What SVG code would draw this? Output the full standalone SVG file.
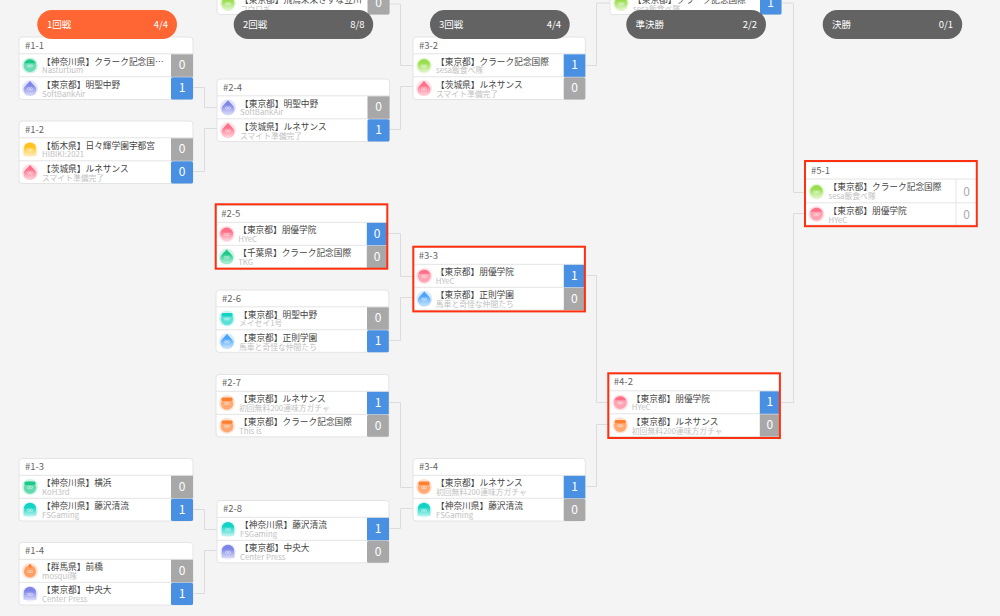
<svg xmlns="http://www.w3.org/2000/svg" width="1000" height="616" viewBox="0 0 1000 616">
<style>
text{font-family:"Noto Sans CJK JP","Noto Sans",sans-serif}
.card{fill:#fff;stroke:#e4e4e4;stroke-width:1}
.div{stroke:#e4e4e4;stroke-width:1}
.h{font-size:9.5px;fill:#666}
.n{font-size:8.7px;fill:#444;transform:translateY(-0.4px)}
.s{font-size:7.8px;fill:#c2c2c2;transform:translateY(0.7px)}
.v{font-size:12px;fill:#fff;text-anchor:middle;transform:translateY(0.3px)}
.vg{font-size:12px;fill:#aaa;text-anchor:middle}
.bl{fill:#4a90e2}
.gr{fill:#a8a8a8}
.frame{fill:none;stroke:#ff3010;stroke-width:2}
.pill{fill:#636363}
.pill1{fill:#ff6633}
.pt{font-size:9.5px;fill:#fff}
.pe{font-size:9.5px;fill:#fff;text-anchor:end}
#links path{fill:none;stroke:#dcdcdc;stroke-width:1}
.lime{color:#9ade50}.pink{color:#ff6f88}.green{color:#1cc98a}.purple{color:#7f85e8}.yellow{color:#ffc31f}
.teal{color:#10d3c3}.orange{color:#ff8030}.blue{color:#4aa4f8}
</style>
<defs>
<linearGradient id="fade" x1="0" y1="0" x2="0" y2="1"><stop offset="0.3" stop-color="#fff" stop-opacity="0"/><stop offset="1" stop-color="#fff" stop-opacity="0.7"/></linearGradient>
<g id="eyes" fill="none" stroke="#fff" stroke-opacity="0.75" stroke-width="0.6"><circle cx="-1.3" cy="0.5" r="1.2"/><circle cx="1.3" cy="0.5" r="1.2"/></g>
<g id="round"><circle r="8" fill="currentColor" opacity="0.22"/><circle r="6.4" fill="currentColor"/><circle r="6.4" fill="url(#fade)"/><use href="#eyes"/></g>
<g id="dome"><circle r="8" fill="currentColor" opacity="0.22"/><circle r="6.4" fill="currentColor" opacity="0.55"/><path d="M-5.9-2.2A6.4 6.4 0 0 1 5.9-2.2Z" fill="currentColor"/><use href="#eyes"/></g>
<g id="knob"><circle r="8" fill="currentColor" opacity="0.22"/><circle cy="0.6" r="6" fill="currentColor" opacity="0.7"/><path d="M0-7.2L2-5 0-2.8-2-5Z" fill="currentColor"/><use href="#eyes"/></g>
<g id="cap"><circle r="8" fill="currentColor" opacity="0.22"/><circle cy="0.6" r="6.2" fill="currentColor" opacity="0.6"/><rect x="-5.6" y="-5.4" width="11.2" height="3.4" rx="1.5" fill="currentColor"/><use href="#eyes"/></g>
<g id="drop"><circle r="8" fill="currentColor" opacity="0.22"/><path d="M0-7.6C1.5-4.6 6.3-2.6 6.3 1.4A6.3 5.6 0 0 1-6.3 1.4C-6.3-2.6-1.5-4.6 0-7.6Z" fill="currentColor"/><path d="M0-7.6C1.5-4.6 6.3-2.6 6.3 1.4A6.3 5.6 0 0 1-6.3 1.4C-6.3-2.6-1.5-4.6 0-7.6Z" fill="url(#fade)"/><use href="#eyes"/></g>
<g id="ghost"><circle r="8" fill="currentColor" opacity="0.14"/><path d="M-6.2 6.2V-0.8A6.2 6.2 0 0 1 6.2-0.8V6.2Z" fill="currentColor"/><path d="M-6.2 6.2V-0.8A6.2 6.2 0 0 1 6.2-0.8V6.2Z" fill="url(#fade)"/><use href="#eyes"/></g>
</defs>
<rect width="1000" height="616" fill="#f4f4f4"/>
<g id="links">
<path d="M193 87.5H204.5V107.5H217"/>
<path d="M193 171.5H204.5V128.5H217"/>
<path d="M193 509.5H204.5V529.5H217"/>
<path d="M193 593.5H204.5V550.5H217"/>
<path d="M389 4H400.5V65.5H413"/>
<path d="M389 129.5H400.5V86.5H413"/>
<path d="M388 233.5H400.5V276.5H413"/>
<path d="M389 340.5H400.5V297.5H413"/>
<path d="M389 402.5H400.5V487.5H413"/>
<path d="M389 528.5H400.5V508.5H413"/>
<path d="M585 65.5H596.5V3H610"/>
<path d="M585 275.5H596.5V402.5H608"/>
<path d="M585 486.5H596.5V424.5H608"/>
<path d="M781 3H793.5V192.5H805"/>
<path d="M781 402.5H793.5V213.5H805"/>
</g>
<g id="m2-3" transform="translate(217,-48)">
<rect class="card" width="172.5" height="62.6" rx="3"/><line class="div" x1="0" x2="172.5" y1="39.8" y2="39.8"/>
<use href="#round" x="11" y="51.3" class="lime"/>
<text class="n" x="23" y="51">【東京都】飛鳥未来きずな立川</text><text class="s" x="23" y="59">コウロギ</text>
<rect class="gr" x="150.5" y="40.3" width="22" height="22.3" rx="1.5"/><text class="v" x="161.5" y="55">0</text>
</g>
<g id="m3-1" transform="translate(610,-48)">
<rect class="card" width="171.5" height="62.6" rx="3"/><line class="div" x1="0" x2="171.5" y1="39.8" y2="39.8"/>
<use href="#round" x="11" y="51.3" class="lime"/>
<text class="n" x="23" y="51">【東京都】クラーク記念国際</text><text class="s" x="23" y="59">sesa飯食べ隊</text>
<rect class="bl" x="150" y="40.3" width="21.5" height="22.3" rx="1.5"/><text class="v" x="160.7" y="55">1</text>
</g>
<g id="m1-1" transform="translate(19,37)">
<rect class="card" width="174" height="62.5" rx="3"/><line class="div" x1="0" x2="174" y1="16.8" y2="16.8"/><line class="div" x1="0" x2="174" y1="39.8" y2="39.8"/>
<text class="h" x="6" y="11.5">#1-1</text>
<use href="#dome" x="11" y="28.5" class="green"/><text class="n" x="23" y="28">【神奈川県】クラーク記念国…</text><text class="s" x="23" y="35.7">Nasturtium</text>
<rect class="gr" x="152" y="17.3" width="22" height="22.5"/><text class="v" x="163" y="32">0</text>
<use href="#drop" x="11" y="51.3" class="purple"/><text class="n" x="23" y="51">【東京都】明聖中野</text><text class="s" x="23" y="59">SoftBankAir</text>
<rect class="bl" x="152" y="40.3" width="22" height="22.3" rx="1.5"/><text class="v" x="163" y="55">1</text>
</g>
<g id="m1-2" transform="translate(19,121)">
<rect class="card" width="174" height="62.5" rx="3"/><line class="div" x1="0" x2="174" y1="16.8" y2="16.8"/><line class="div" x1="0" x2="174" y1="39.8" y2="39.8"/>
<text class="h" x="6" y="11.5">#1-2</text>
<use href="#ghost" x="11" y="28.5" class="yellow"/><text class="n" x="23" y="28">【栃木県】日々輝学園宇都宮</text><text class="s" x="23" y="35.7">HIBIKI:2021</text>
<rect class="gr" x="152" y="17.3" width="22" height="22.5"/><text class="v" x="163" y="32">0</text>
<use href="#drop" x="11" y="51.3" class="pink"/><text class="n" x="23" y="51">【茨城県】ルネサンス</text><text class="s" x="23" y="59">スマイト準備完了</text>
<rect class="bl" x="152" y="40.3" width="22" height="22.3" rx="1.5"/><text class="v" x="163" y="55">0</text>
</g>
<g id="m1-3" transform="translate(19,458.5)">
<rect class="card" width="174" height="62.5" rx="3"/><line class="div" x1="0" x2="174" y1="16.8" y2="16.8"/><line class="div" x1="0" x2="174" y1="39.8" y2="39.8"/>
<text class="h" x="6" y="11.5">#1-3</text>
<use href="#cap" x="11" y="28.5" class="green"/><text class="n" x="23" y="28">【神奈川県】横浜</text><text class="s" x="23" y="35.7">KoH3rd</text>
<rect class="gr" x="152" y="17.3" width="22" height="22.5"/><text class="v" x="163" y="32">0</text>
<use href="#ghost" x="11" y="51.3" class="teal"/><text class="n" x="23" y="51">【神奈川県】藤沢清流</text><text class="s" x="23" y="59">FSGaming</text>
<rect class="bl" x="152" y="40.3" width="22" height="22.3" rx="1.5"/><text class="v" x="163" y="55">1</text>
</g>
<g id="m1-4" transform="translate(19,542.5)">
<rect class="card" width="174" height="62.5" rx="3"/><line class="div" x1="0" x2="174" y1="16.8" y2="16.8"/><line class="div" x1="0" x2="174" y1="39.8" y2="39.8"/>
<text class="h" x="6" y="11.5">#1-4</text>
<use href="#knob" x="11" y="28.5" class="orange"/><text class="n" x="23" y="28">【群馬県】前橋</text><text class="s" x="23" y="35.7">mosqui隊</text>
<rect class="gr" x="152" y="17.3" width="22" height="22.5"/><text class="v" x="163" y="32">0</text>
<use href="#ghost" x="11" y="51.3" class="purple"/><text class="n" x="23" y="51">【東京都】中央大</text><text class="s" x="23" y="59">Center Press</text>
<rect class="bl" x="152" y="40.3" width="22" height="22.3" rx="1.5"/><text class="v" x="163" y="55">1</text>
</g>
<g id="m2-4" transform="translate(217,79)">
<rect class="card" width="172.5" height="62.5" rx="3"/><line class="div" x1="0" x2="172.5" y1="16.8" y2="16.8"/><line class="div" x1="0" x2="172.5" y1="39.8" y2="39.8"/>
<text class="h" x="6" y="11.5">#2-4</text>
<use href="#drop" x="11" y="28.5" class="purple"/><text class="n" x="23" y="28">【東京都】明聖中野</text><text class="s" x="23" y="35.7">SoftBankAir</text>
<rect class="gr" x="150.5" y="17.3" width="22" height="22.5"/><text class="v" x="161.5" y="32">0</text>
<use href="#drop" x="11" y="51.3" class="pink"/><text class="n" x="23" y="51">【茨城県】ルネサンス</text><text class="s" x="23" y="59">スマイト準備完了</text>
<rect class="bl" x="150.5" y="40.3" width="22" height="22.3" rx="1.5"/><text class="v" x="161.5" y="55">1</text>
</g>
<g id="m2-5" transform="translate(216.2,205.5)">
<rect class="card" width="171" height="62.5"/><line class="div" x1="0" x2="171" y1="16.8" y2="16.8"/><line class="div" x1="0" x2="171" y1="39.8" y2="39.8"/>
<text class="h" x="5" y="11">#2-5</text>
<use href="#round" x="10.5" y="28.5" class="pink"/><text class="n" x="22" y="28">【東京都】朋優学院</text><text class="s" x="22" y="35.7">HYeC</text>
<rect class="bl" x="150.6" y="17.3" width="20.4" height="22.5"/><text class="v" x="161" y="32">0</text>
<use href="#drop" x="10.5" y="51.3" class="green"/><text class="n" x="22" y="51">【千葉県】クラーク記念国際</text><text class="s" x="22" y="59">TKG</text>
<rect class="gr" x="150.6" y="40.3" width="20.4" height="22.3"/><text class="v" x="161" y="55">0</text>
<rect class="frame" x="-0.5" y="-1.2" width="171.6" height="64.4"/>
</g>
<g id="m2-6" transform="translate(216,290)">
<rect class="card" width="172.8" height="62.3" rx="3"/><line class="div" x1="0" x2="172.8" y1="16.8" y2="16.8"/><line class="div" x1="0" x2="172.8" y1="39.8" y2="39.8"/>
<text class="h" x="6" y="11.5">#2-6</text>
<use href="#cap" x="11" y="28.5" class="teal"/><text class="n" x="23" y="28">【東京都】明聖中野</text><text class="s" x="23" y="35.7">メイセイ1号</text>
<rect class="gr" x="151" y="17.3" width="21.8" height="22.5"/><text class="v" x="162" y="32">0</text>
<use href="#drop" x="11" y="51.3" class="blue"/><text class="n" x="23" y="51">【東京都】正則学園</text><text class="s" x="23" y="59">馬車と奇怪な仲間たち</text>
<rect class="bl" x="151" y="40.3" width="21.8" height="22" rx="1.5"/><text class="v" x="162" y="55">1</text>
</g>
<g id="m2-7" transform="translate(216,374.5)">
<rect class="card" width="172.8" height="62.3" rx="3"/><line class="div" x1="0" x2="172.8" y1="16.8" y2="16.8"/><line class="div" x1="0" x2="172.8" y1="39.8" y2="39.8"/>
<text class="h" x="6" y="11.5">#2-7</text>
<use href="#cap" x="11" y="28.5" class="orange"/><text class="n" x="23" y="28">【東京都】ルネサンス</text><text class="s" x="23" y="35.7">初回無料200連味方ガチャ</text>
<rect class="bl" x="151" y="17.3" width="21.8" height="22.5"/><text class="v" x="162" y="32">1</text>
<use href="#cap" x="11" y="51.3" class="orange"/><text class="n" x="23" y="51">【東京都】クラーク記念国際</text><text class="s" x="23" y="59">This is</text>
<rect class="gr" x="151" y="40.3" width="21.8" height="22" rx="1.5"/><text class="v" x="162" y="55">0</text>
</g>
<g id="m2-8" transform="translate(217,500.5)">
<rect class="card" width="172" height="62.3" rx="3"/><line class="div" x1="0" x2="172" y1="16.8" y2="16.8"/><line class="div" x1="0" x2="172" y1="39.8" y2="39.8"/>
<text class="h" x="6" y="11.5">#2-8</text>
<use href="#ghost" x="11" y="28.5" class="teal"/><text class="n" x="23" y="28">【神奈川県】藤沢清流</text><text class="s" x="23" y="35.7">FSGaming</text>
<rect class="bl" x="150" y="17.3" width="22" height="22.5"/><text class="v" x="161" y="32">1</text>
<use href="#ghost" x="11" y="51.3" class="purple"/><text class="n" x="23" y="51">【東京都】中央大</text><text class="s" x="23" y="59">Center Press</text>
<rect class="gr" x="150" y="40.3" width="22" height="22" rx="1.5"/><text class="v" x="161" y="55">0</text>
</g>
<g id="m3-2" transform="translate(413,37)">
<rect class="card" width="172.3" height="62.5" rx="3"/><line class="div" x1="0" x2="172.3" y1="16.8" y2="16.8"/><line class="div" x1="0" x2="172.3" y1="39.8" y2="39.8"/>
<text class="h" x="6" y="11.5">#3-2</text>
<use href="#round" x="11" y="28.5" class="lime"/><text class="n" x="23" y="28">【東京都】クラーク記念国際</text><text class="s" x="23" y="35.7">sesa飯食べ隊</text>
<rect class="bl" x="150.7" y="17.3" width="21.6" height="22.5"/><text class="v" x="161.5" y="32">1</text>
<use href="#drop" x="11" y="51.3" class="pink"/><text class="n" x="23" y="51">【茨城県】ルネサンス</text><text class="s" x="23" y="59">スマイト準備完了</text>
<rect class="gr" x="150.7" y="40.3" width="21.6" height="22.3" rx="1.5"/><text class="v" x="161.5" y="55">0</text>
</g>
<g id="m3-3" transform="translate(413.8,247.5)">
<rect class="card" width="171" height="62.5"/><line class="div" x1="0" x2="171" y1="16.8" y2="16.8"/><line class="div" x1="0" x2="171" y1="39.8" y2="39.8"/>
<text class="h" x="5" y="11">#3-3</text>
<use href="#dome" x="10.5" y="28.5" class="pink"/><text class="n" x="22" y="28">【東京都】朋優学院</text><text class="s" x="22" y="35.7">HYeC</text>
<rect class="bl" x="150" y="17.3" width="21" height="22.5"/><text class="v" x="160.5" y="32">1</text>
<use href="#drop" x="10.5" y="51.3" class="blue"/><text class="n" x="22" y="51">【東京都】正則学園</text><text class="s" x="22" y="59">馬車と奇怪な仲間たち</text>
<rect class="gr" x="150" y="40.3" width="21" height="22.3"/><text class="v" x="160.5" y="55">0</text>
<rect class="frame" x="-0.5" y="-0.8" width="171.6" height="64.7"/>
</g>
<g id="m3-4" transform="translate(413,458.5)">
<rect class="card" width="172.3" height="62.5" rx="3"/><line class="div" x1="0" x2="172.3" y1="16.8" y2="16.8"/><line class="div" x1="0" x2="172.3" y1="39.8" y2="39.8"/>
<text class="h" x="6" y="11.5">#3-4</text>
<use href="#cap" x="11" y="28.5" class="orange"/><text class="n" x="23" y="28">【東京都】ルネサンス</text><text class="s" x="23" y="35.7">初回無料200連味方ガチャ</text>
<rect class="bl" x="150.7" y="17.3" width="21.6" height="22.5"/><text class="v" x="161.5" y="32">1</text>
<use href="#ghost" x="11" y="51.3" class="teal"/><text class="n" x="23" y="51">【神奈川県】藤沢清流</text><text class="s" x="23" y="59">FSGaming</text>
<rect class="gr" x="150.7" y="40.3" width="21.6" height="22.3" rx="1.5"/><text class="v" x="161.5" y="55">0</text>
</g>
<g id="m4-2" transform="translate(608.8,374)">
<rect class="card" width="171" height="62.5"/><line class="div" x1="0" x2="171" y1="16.8" y2="16.8"/><line class="div" x1="0" x2="171" y1="39.8" y2="39.8"/>
<text class="h" x="5" y="11">#4-2</text>
<use href="#dome" x="11.5" y="28.5" class="pink"/><text class="n" x="23" y="28">【東京都】朋優学院</text><text class="s" x="23" y="35.7">HYeC</text>
<rect class="bl" x="151" y="17.3" width="20" height="22.5"/><text class="v" x="161" y="32">1</text>
<use href="#cap" x="11.5" y="51.3" class="orange"/><text class="n" x="23" y="51">【東京都】ルネサンス</text><text class="s" x="23" y="59">初回無料200連味方ガチャ</text>
<rect class="gr" x="151" y="40.3" width="20" height="22.3"/><text class="v" x="161" y="55">0</text>
<rect class="frame" x="-0.5" y="-0.7" width="171.6" height="64.7"/>
</g>
<g id="m5-1" transform="translate(805.5,162)">
<rect class="card" width="171" height="63"/><line class="div" x1="0" x2="171" y1="17" y2="17"/><line class="div" x1="0" x2="171" y1="40.8" y2="40.8"/><line class="div" x1="150.5" x2="150.5" y1="17" y2="63.5"/>
<text class="h" x="5.5" y="11.5">#5-1</text>
<use href="#round" x="11" y="29.5" class="lime"/><text class="n" x="23" y="28.5">【東京都】クラーク記念国際</text><text class="s" x="23" y="36.5">sesa飯食べ隊</text>
<text class="vg" x="161" y="33.5">0</text>
<use href="#dome" x="11" y="52" class="pink"/><text class="n" x="23" y="52">【東京都】朋優学院</text><text class="s" x="23" y="60">HYeC</text>
<text class="vg" x="161" y="56.5">0</text>
<rect class="frame" x="-0.5" y="-1" width="171.8" height="65.2"/>
</g>
<g id="r1"><rect class="pill1" x="37.3" y="10" width="139.7" height="29" rx="14.5"/><text class="pt" x="47" y="28">1回戦</text><text class="pe" x="168" y="28">4/4</text></g>
<g id="r2"><rect class="pill" x="233.7" y="10" width="139.5" height="29" rx="14.5"/><text class="pt" x="243" y="28">2回戦</text><text class="pe" x="364.5" y="28">8/8</text></g>
<g id="r3"><rect class="pill" x="430" y="10" width="139.7" height="29" rx="14.5"/><text class="pt" x="439" y="28">3回戦</text><text class="pe" x="561" y="28">4/4</text></g>
<g id="r4"><rect class="pill" x="626.3" y="10" width="139.7" height="29" rx="14.5"/><text class="pt" x="635.5" y="28">準決勝</text><text class="pe" x="757" y="28">2/2</text></g>
<g id="r5"><rect class="pill" x="822.7" y="10" width="139.5" height="29" rx="14.5"/><text class="pt" x="832" y="28">決勝</text><text class="pe" x="953" y="28">0/1</text></g>
</svg>
